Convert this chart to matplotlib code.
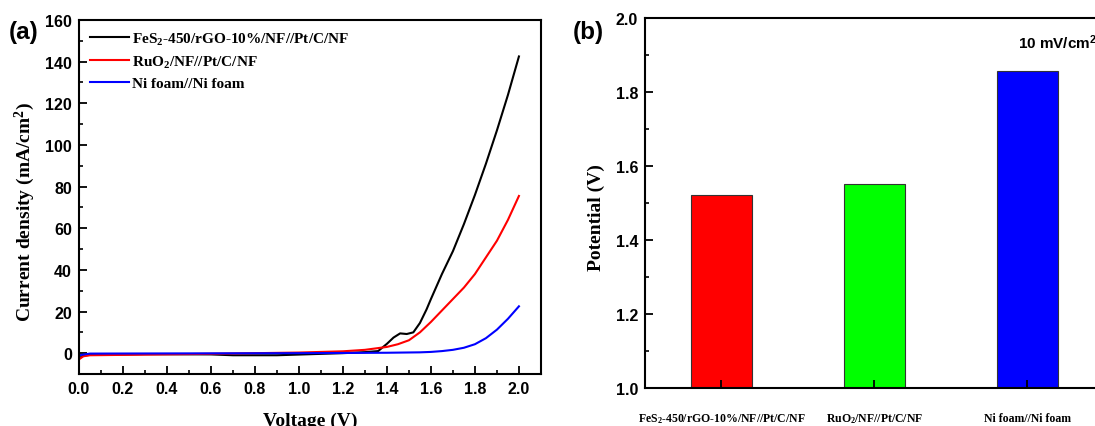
import matplotlib
matplotlib.use('Agg')
import matplotlib.pyplot as plt
from matplotlib.ticker import MultipleLocator

plt.rcParams['mathtext.default'] = 'regular'

# (a) polarization curves
v_fes = [0.0, 0.02, 0.05, 0.3, 0.6, 0.7, 0.9, 1.05, 1.2, 1.3, 1.36, 1.4, 1.43, 1.46, 1.49,
         1.52, 1.55, 1.58, 1.6, 1.65, 1.7, 1.75, 1.8, 1.85, 1.9, 1.95, 2.0]
j_fes = [-2.5, -1.2, -0.8, -0.5, -0.6, -1.0, -1.0, -0.5, 0.0, 0.5, 1.0, 4.5, 7.5, 9.5, 9.2,
         10.0, 14.5, 21, 26, 38, 49, 62, 76, 91, 107, 124, 142.5]
v_ru = [0.0, 0.02, 0.05, 0.3, 0.6, 1.0, 1.2, 1.3, 1.4, 1.45, 1.5, 1.55, 1.6, 1.65, 1.7,
        1.75, 1.8, 1.85, 1.9, 1.95, 2.0]
j_ru = [-3.0, -1.5, -1.0, -0.7, -0.3, 0.3, 0.9, 1.6, 3.0, 4.3, 6.2, 10, 15, 20.5, 26,
        31.5, 38, 46, 54, 64, 75.5]
v_ni = [0.0, 0.05, 0.5, 1.0, 1.4, 1.55, 1.6, 1.65, 1.7, 1.75, 1.8, 1.85, 1.9, 1.95, 2.0]
j_ni = [-1.0, -0.2, -0.1, 0.0, 0.2, 0.4, 0.6, 1.0, 1.6, 2.6, 4.3, 7.2, 11.3, 16.5, 22.5]
series_names = ['FeS$_2$-450/rGO-10%/NF//Pt/C/NF', 'RuO$_2$/NF//Pt/C/NF', 'Ni foam//Ni foam']
series_colors = ['black', 'red', 'blue']

# (b) potential at 10 mA/cm2
potentials = [1.522, 1.551, 1.857]
bar_colors = ['#ff0000', '#00ff00', '#0000ff']

serif = 'Liberation Serif'
sans = 'Liberation Sans'

fig = plt.figure(figsize=(10.95, 4.27), dpi=100)
ax1 = fig.add_axes([0.0721, 0.1218, 0.4219, 0.829])
ax2 = fig.add_axes([0.589, 0.089, 0.419, 0.8665])

for v, j, name, c in zip([v_fes, v_ru, v_ni], [j_fes, j_ru, j_ni], series_names, series_colors):
    ax1.plot(v, j, color=c, lw=1.5, label=name)
ax1.set_xlim(0, 2.1)
ax1.set_ylim(-10, 160)
ax1.xaxis.set_major_locator(MultipleLocator(0.2))
ax1.xaxis.set_minor_locator(MultipleLocator(0.1))
ax1.yaxis.set_major_locator(MultipleLocator(20))
ax1.yaxis.set_minor_locator(MultipleLocator(10))
ax1.set_xticks([0.0, 0.2, 0.4, 0.6, 0.8, 1.0, 1.2, 1.4, 1.6, 1.8, 2.0])
ax1.legend(loc='upper left', frameon=False, handlelength=2.6, handletextpad=0.15,
           labelspacing=0.45, borderaxespad=0.3,
           prop={'family': serif, 'weight': 'bold', 'size': 11})

x = [1, 2, 3]
ax2.bar(x, [p - 1.0 for p in potentials], bottom=1.0, width=0.4, color=bar_colors,
        edgecolor='#333333', linewidth=0.8)
ax2.set_xlim(0.5, 3.5)
ax2.set_ylim(1.0, 2.0)
ax2.yaxis.set_major_locator(MultipleLocator(0.2))
ax2.yaxis.set_minor_locator(MultipleLocator(0.1))
ax2.set_xticks(x)
ax2.set_xticklabels(series_names, fontfamily=serif, fontweight='bold', fontsize=8.5)

for ax in (ax1, ax2):
    for s in ax.spines.values():
        s.set_linewidth(1.5)
    ax.tick_params(which='major', direction='in', length=6, width=1.3, pad=5)
    ax.tick_params(which='minor', direction='in', length=3, width=1.2)
    for lab in ax.get_yticklabels():
        lab.set_fontfamily(sans)
        lab.set_fontweight('bold')
        lab.set_fontsize(11.5)
for lab in ax1.get_xticklabels():
    lab.set_fontfamily(sans)
    lab.set_fontweight('bold')
    lab.set_fontsize(11.5)
ax2.tick_params(axis='x', which='major', pad=17)

fig.text(0.023, 0.504, 'Current density (mA/cm$^2$)', rotation=90, ha='center', va='center',
         fontfamily=serif, fontweight='bold', fontsize=14)
fig.text(0.283, 0.014, 'Voltage (V)', ha='center', va='center',
         fontfamily=serif, fontweight='bold', fontsize=14)
fig.text(0.545, 0.49, 'Potential (V)', rotation=90, ha='center', va='center',
         fontfamily=serif, fontweight='bold', fontsize=14)
fig.text(0.008, 0.923, '(a)', ha='left', va='center', fontfamily=sans, fontweight='bold', fontsize=17.5)
fig.text(0.523, 0.925, '(b)', ha='left', va='center', fontfamily=sans, fontweight='bold', fontsize=17.5)
fig.text(1.0015, 0.901, '10 mV/cm$^2$', ha='right', va='center',
         fontfamily=sans, fontweight='bold', fontsize=11)

fig.savefig('out.png', dpi=100)
